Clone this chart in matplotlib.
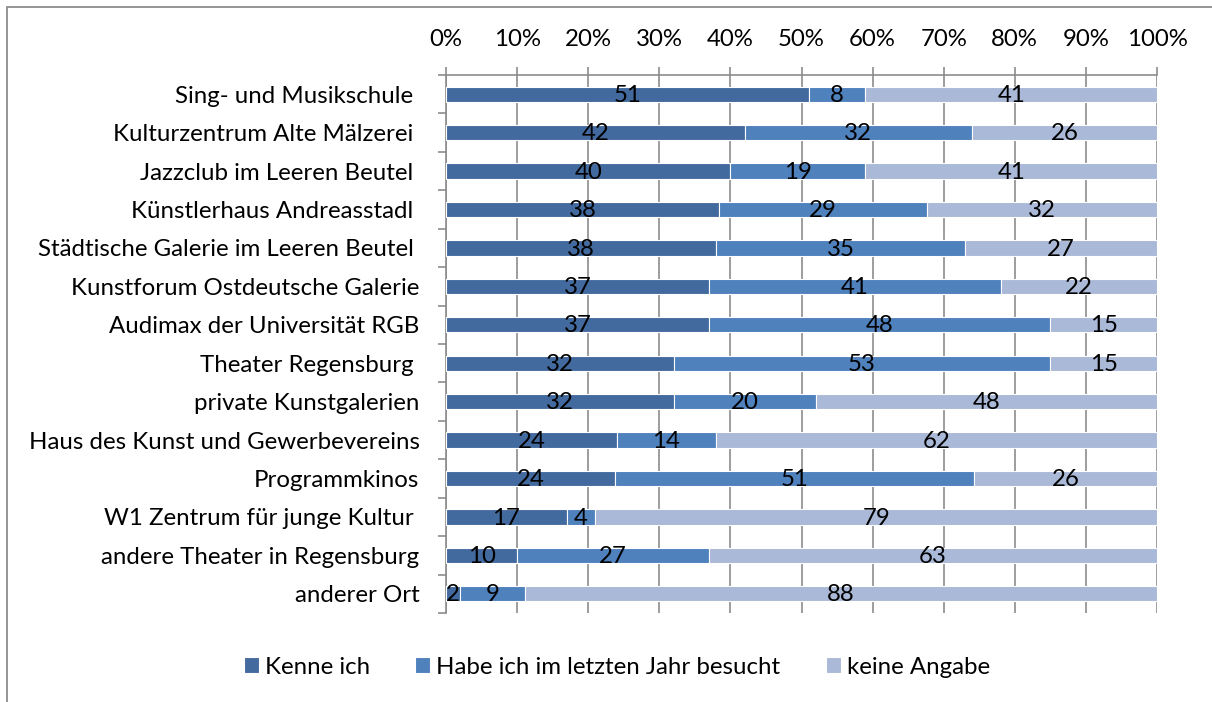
import matplotlib.pyplot as plt
import numpy as np
from matplotlib.patches import Rectangle

plt.rcParams['font.family'] = ['Lato', 'DejaVu Sans']

places = ['Sing- und Musikschule ', 'Kulturzentrum Alte Mälzerei ', 'Jazzclub im Leeren Beutel ',
          'Künstlerhaus Andreasstadl ', 'Städtische Galerie im Leeren Beutel ',
          'Kunstforum Ostdeutsche Galerie', 'Audimax der Universität RGB', 'Theater Regensburg ',
          'private Kunstgalerien', 'Haus des Kunst und Gewerbevereins', 'Programmkinos',
          'W1 Zentrum für junge Kultur ', 'andere Theater in Regensburg', 'anderer Ort']
kenne = [51, 42, 40, 38, 38, 37, 37, 32, 32, 24, 24, 17, 10, 2]
besucht = [8, 32, 19, 29, 35, 41, 48, 53, 20, 14, 51, 4, 27, 9]
keine = [41, 26, 41, 32, 27, 22, 15, 15, 48, 62, 26, 79, 63, 88]
series_names = ['Kenne ich', 'Habe ich im letzten Jahr besucht', 'keine Angabe']
colors = ['#436A9E', '#4F81BD', '#AAB9D8']

data = np.array([kenne, besucht, keine], dtype=float)
shares = data / data.sum(axis=0)
fs = 17.3

fig = plt.figure(figsize=(12.12, 7.02), dpi=100)
ax = fig.add_axes([446 / 1212, 1 - 613 / 702, 711 / 1212, 538 / 702])

# outer chart frame
fig.patches.append(Rectangle((7 / 1212, -0.05), 1.2, 1 - 7 / 702 + 0.05, transform=fig.transFigure,
                             fill=False, edgecolor='#8C8C8C', linewidth=1.3))

y = np.arange(len(places))
left = np.zeros(len(places))
for i in range(3):
    ax.barh(y, shares[i], left=left, height=0.4, color=colors[i], edgecolor='white',
            linewidth=0.8, label=series_names[i], zorder=3)
    for j in range(len(places)):
        ax.text(left[j] + shares[i][j] / 2, y[j] + 0.03, f'{int(data[i][j])}', ha='center',
                va='center', fontsize=fs, color='black', zorder=4)
    left += shares[i]

ax.set_xlim(0, 1)
ax.set_ylim(len(places) - 0.5, -0.5)
ax.set_xticks(np.linspace(0, 1, 11))
ax.set_xticklabels([f'{k}%' for k in range(0, 101, 10)], fontsize=fs)
ax.xaxis.tick_top()
ax.tick_params(axis='x', direction='out', length=6, width=1.2, color='#8C8C8C', pad=12)
ax.grid(axis='x', color='#8C8C8C', linewidth=1.2, zorder=0)
ax.set_axisbelow(True)

ax.set_yticks(y)
ax.set_yticklabels(places, fontsize=fs)
ax.tick_params(axis='y', which='major', length=0, pad=19)
ax.set_yticks(np.arange(-0.5, len(places), 1), minor=True)
ax.tick_params(axis='y', which='minor', length=6, width=1.2, color='#8C8C8C')

for s in ['right', 'bottom']:
    ax.spines[s].set_visible(False)
for s in ['top', 'left']:
    ax.spines[s].set_color('#8C8C8C')
    ax.spines[s].set_linewidth(1.2)

fig.legend(loc='center', bbox_to_anchor=(617 / 1212, 1 - 667 / 702), ncol=3, frameon=False,
           fontsize=fs, handlelength=0.62, handleheight=0.62, handletextpad=0.25,
           columnspacing=1.9)

fig.savefig('out.png', dpi=100)
